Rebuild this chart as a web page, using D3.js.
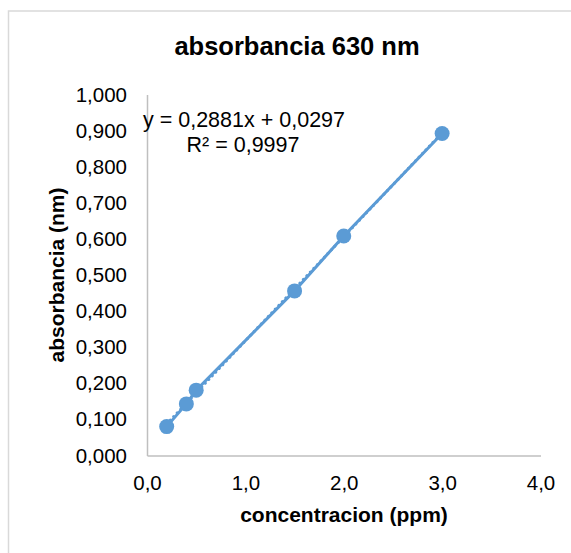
<!DOCTYPE html>
<html>
<head>
<meta charset="utf-8">
<script src="https://cdn.jsdelivr.net/npm/d3@7"></script>
<style>
  body { margin: 0; background: #fff; }
  text { font-family: "Liberation Sans", Arial, sans-serif; fill: #000; }
</style>
</head>
<body>
<div id="chart"></div>
<script>
// data
const concentracion = [0.2, 0.4, 0.5, 1.5, 2.0, 3.0];
const absorbancia = [0.080, 0.143, 0.181, 0.456, 0.608, 0.892];
const xTicks = [0, 1, 2, 3, 4];
const yTicks = [0, 0.1, 0.2, 0.3, 0.4, 0.5, 0.6, 0.7, 0.8, 0.9, 1.0];
const slope = 0.2881, intercept = 0.0297;
const eqLines = ["y = 0,2881x + 0,0297", "R² = 0,9997"];

const W = 571, H = 553;
const blue = "#5b9bd5";

var svg = d3.select("#chart").append("svg")
  .attr("width", W).attr("height", H);

// chart border
svg.append("rect")
  .attr("x", 8.5).attr("y", 11).attr("width", 580).attr("height", 560)
  .attr("fill", "none").attr("stroke", "#d9d9d9").attr("stroke-width", 1.5);

var x = d3.scaleLinear().domain([0, 4]).range([147, 540.5]);
var y = d3.scaleLinear().domain([0, 1]).range([455.5, 94.5]);

const fmtX = v => d3.format(".1f")(v).replace(".", ",");
const fmtY = v => d3.format(".3f")(v).replace(".", ",");

// axes
var xAxis = svg.append("g").attr("transform", "translate(0," + y(0) + ")")
  .call(d3.axisBottom(x).tickValues(xTicks).tickFormat(fmtX).tickSize(0).tickPadding(28));
var yAxis = svg.append("g").attr("transform", "translate(" + x(0) + ",0)")
  .call(d3.axisLeft(y).tickValues(yTicks).tickFormat(fmtY).tickSize(0).tickPadding(20));

[xAxis, yAxis].forEach(a => {
  a.select(".domain").attr("stroke", "#bfbfbf").attr("stroke-width", 1.5);
  a.selectAll("text").style("font-size", "20.5px").style("font-family", "Liberation Sans, Arial, sans-serif").attr("fill", "#000");
});
xAxis.selectAll("text").attr("dy", "0.32em");

// trendline (dotted)
var trendX = d3.extent(concentracion);
svg.append("line")
  .attr("x1", x(trendX[0])).attr("y1", y(slope * trendX[0] + intercept))
  .attr("x2", x(trendX[1])).attr("y2", y(slope * trendX[1] + intercept))
  .attr("stroke", blue).attr("stroke-width", 3)
  .attr("stroke-dasharray", "0.1 5").attr("stroke-linecap", "round");

// data line
var pts = concentracion.map((c, i) => [c, absorbancia[i]]);
svg.append("path")
  .datum(pts)
  .attr("fill", "none").attr("stroke", blue).attr("stroke-width", 3)
  .attr("d", d3.line().x(d => x(d[0])).y(d => y(d[1])));

svg.selectAll("circle.pt").data(pts).enter().append("circle")
  .attr("class", "pt")
  .attr("cx", d => x(d[0])).attr("cy", d => y(d[1]))
  .attr("r", 7.5).attr("fill", blue);

// equation label
svg.append("text").attr("x", 244).attr("y", 127).attr("text-anchor", "middle")
  .style("font-size", "21.5px").text(eqLines[0]);
svg.append("text").attr("x", 243).attr("y", 152).attr("text-anchor", "middle")
  .style("font-size", "21.5px").text(eqLines[1]);

// titles
svg.append("text").attr("x", 297).attr("y", 55).attr("text-anchor", "middle")
  .style("font-size", "25.5px").style("font-weight", "bold").text("absorbancia 630 nm");
svg.append("text").attr("x", 344).attr("y", 522).attr("text-anchor", "middle")
  .style("font-size", "21px").style("font-weight", "bold").text("concentracion (ppm)");
svg.append("text").attr("transform", "translate(64,275) rotate(-90)").attr("text-anchor", "middle")
  .style("font-size", "21px").style("font-weight", "bold").text("absorbancia (nm)");
</script>
</body>
</html>
